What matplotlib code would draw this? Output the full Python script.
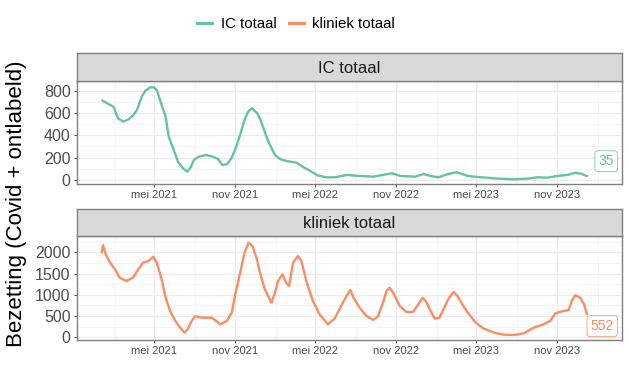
import numpy as np
import pandas as pd
import matplotlib
matplotlib.use('Agg')
import matplotlib.pyplot as plt
from matplotlib.lines import Line2D

plt.rcParams['font.family'] = ['Liberation Sans', 'DejaVu Sans']

# ---------------------------------------------------------------
#   DATA
# ---------------------------------------------------------------
ic_datum = ['2021-01-04', '2021-01-17', '2021-01-29', '2021-02-08', '2021-02-20', '2021-03-04',
            '2021-03-15', '2021-03-23', '2021-04-03', '2021-04-11', '2021-04-22', '2021-05-01',
            '2021-05-07', '2021-05-18', '2021-05-27', '2021-06-03', '2021-06-13', '2021-06-24',
            '2021-07-05', '2021-07-15', '2021-07-23', '2021-07-30', '2021-08-10', '2021-08-27',
            '2021-09-11', '2021-09-23', '2021-10-03', '2021-10-14', '2021-10-23', '2021-11-02',
            '2021-11-13', '2021-11-22', '2021-11-30', '2021-12-09', '2021-12-21', '2021-12-28',
            '2022-01-04', '2022-01-15', '2022-01-30', '2022-02-10', '2022-02-25', '2022-03-20',
            '2022-04-05', '2022-04-19', '2022-05-08', '2022-05-27', '2022-06-15', '2022-07-11',
            '2022-08-11', '2022-09-10', '2022-10-22', '2022-11-10', '2022-12-14', '2023-01-02',
            '2023-01-17', '2023-02-05', '2023-02-27', '2023-03-18', '2023-04-13', '2023-05-13',
            '2023-06-20', '2023-07-27', '2023-08-26', '2023-09-17', '2023-10-10', '2023-11-01',
            '2023-11-24', '2023-12-12', '2023-12-27', '2024-01-07']
ic_totaal = [711, 681, 657, 553, 523, 544,
             582, 627, 747, 800, 830, 830,
             806, 672, 567, 388, 284, 164,
             105, 74, 114, 179, 209, 224,
             209, 188, 134, 143, 194, 284,
             418, 538, 612, 642, 597, 538,
             463, 343, 224, 188, 170, 155,
             114, 83, 39, 24, 24, 45,
             36, 30, 60, 36, 30, 54,
             36, 24, 54, 69, 36, 24,
             12, 6, 12, 24, 21, 36,
             45, 65, 54, 35]

kl_datum = ['2021-01-02', '2021-01-05', '2021-01-11', '2021-01-21', '2021-02-01', '2021-02-12',
            '2021-02-27', '2021-03-14', '2021-03-26', '2021-04-06', '2021-04-18', '2021-04-29',
            '2021-05-07', '2021-05-18', '2021-05-26', '2021-06-06', '2021-06-18', '2021-06-29',
            '2021-07-09', '2021-07-16', '2021-07-25', '2021-08-02', '2021-08-17', '2021-09-09',
            '2021-09-28', '2021-10-13', '2021-10-24', '2021-11-01', '2021-11-12', '2021-11-22',
            '2021-12-01', '2021-12-10', '2021-12-20', '2021-12-27', '2022-01-07', '2022-01-22',
            '2022-01-30', '2022-02-06', '2022-02-16', '2022-02-24', '2022-03-03', '2022-03-12',
            '2022-03-23', '2022-03-31', '2022-04-11', '2022-04-26', '2022-05-11', '2022-05-30',
            '2022-06-14', '2022-06-29', '2022-07-12', '2022-07-20', '2022-07-27', '2022-08-10',
            '2022-08-25', '2022-09-10', '2022-09-21', '2022-10-02', '2022-10-10', '2022-10-17',
            '2022-10-25', '2022-11-09', '2022-11-24', '2022-12-09', '2022-12-21', '2022-12-31',
            '2023-01-09', '2023-01-16', '2023-01-27', '2023-02-07', '2023-02-18', '2023-03-01',
            '2023-03-11', '2023-03-20', '2023-03-31', '2023-04-12', '2023-04-30', '2023-05-19',
            '2023-06-11', '2023-07-03', '2023-07-26', '2023-08-17', '2023-09-09', '2023-10-01',
            '2023-10-16', '2023-10-28', '2023-11-15', '2023-11-27', '2023-12-04', '2023-12-12',
            '2023-12-23', '2024-01-01', '2024-01-07']
kliniek_totaal = [2000, 2165, 1953, 1755, 1600, 1402,
                  1325, 1402, 1600, 1755, 1795, 1896,
                  1755, 1365, 972, 619, 384, 226,
                  108, 188, 384, 501, 461, 461,
                  306, 384, 579, 1012, 1520, 1991,
                  2226, 2148, 1835, 1520, 1129, 814,
                  1050, 1325, 1482, 1285, 1207, 1755,
                  1913, 1795, 1325, 854, 541, 306,
                  438, 736, 988, 1113, 932, 697,
                  501, 407, 501, 814, 1089, 1167,
                  1050, 736, 595, 595, 776, 932,
                  814, 659, 438, 461, 697, 932,
                  1066, 972, 776, 579, 344, 202,
                  108, 61, 54, 94, 226, 306,
                  384, 564, 619, 642, 854, 988,
                  932, 776, 552]

x_ticks = ['2021-05-01', '2021-11-01', '2022-05-01', '2022-11-01', '2023-05-01', '2023-11-01']
x_ticklabels = ['mei 2021', 'nov 2021', 'mei 2022', 'nov 2022', 'mei 2023', 'nov 2023']
x_minor = ['2021-02-01', '2021-08-01', '2022-02-01', '2022-08-01', '2023-02-01', '2023-08-01', '2024-02-01']

kleur_ic = '#66C2A5'
kleur_kl = '#FC8D62'

# ---------------------------------------------------------------
#   FIGUUR
# ---------------------------------------------------------------
fig = plt.figure(figsize=(6.29, 3.89), dpi=100, facecolor='white')

panelen = [
    # titel, datums, waarden, kleur, panel-pos, strip-pos, ylim, major, minor, label
    ('IC totaal', ic_datum, ic_totaal, kleur_ic,
     [0.1224, 0.527, 0.8665, 0.2648], [0.1224, 0.7918, 0.8665, 0.072],
     (-36, 887), [0, 200, 400, 600, 800], [100, 300, 500, 700],
     ('2024-02-20', 168, '35')),
    ('kliniek totaal', kl_datum, kliniek_totaal, kleur_kl,
     [0.1224, 0.126, 0.8665, 0.2674], [0.1224, 0.3933, 0.8665, 0.0694],
     (-64, 2384), [0, 500, 1000, 1500, 2000], [250, 750, 1250, 1750, 2250],
     ('2024-02-11', 261, '552')),
]

for titel, datums, waarden, kleur, pos, spos, ylim, ymaj, ymin, lab in panelen:
    ax = fig.add_axes(pos)
    ax.set_facecolor('white')
    ax.plot(pd.to_datetime(datums), waarden, color=kleur, lw=1.7, zorder=3)

    ax.set_xlim(pd.Timestamp('2020-11-07'), pd.Timestamp('2024-03-27'))
    ax.set_ylim(*ylim)
    ax.set_xticks(pd.to_datetime(x_ticks))
    ax.set_xticklabels(x_ticklabels)
    ax.set_xticks(pd.to_datetime(x_minor), minor=True)
    ax.set_yticks(ymaj)
    ax.set_yticks(ymin, minor=True)

    ax.grid(True, which='major', color='#EBEBEB', lw=0.9, zorder=0)
    ax.grid(True, which='minor', color='#F4F4F4', lw=0.6, zorder=0)
    ax.set_axisbelow(True)

    ax.tick_params(axis='y', which='major', labelsize=11.5, labelcolor='#4D4D4D',
                   color='#333333', length=2.5, width=0.6, pad=2)
    ax.tick_params(axis='x', which='major', labelsize=8, labelcolor='#4D4D4D',
                   color='#333333', length=2.5, width=0.6, pad=2)
    ax.tick_params(which='minor', length=0)
    for sp in ax.spines.values():
        sp.set_color('#808080')
        sp.set_linewidth(1.0)

    # label met laatste waarde
    ax.text(pd.Timestamp(lab[0]), lab[1], lab[2], color=kleur, fontsize=10,
            ha='center', va='center', zorder=4,
            bbox=dict(boxstyle='round,pad=0.25,rounding_size=0.2', facecolor='white',
                      edgecolor=kleur, linewidth=0.6, alpha=0.9))

    # strip
    sax = fig.add_axes(spos)
    sax.set_facecolor('#D9D9D9')
    sax.set_xticks([])
    sax.set_yticks([])
    for sp in sax.spines.values():
        sp.set_color('#808080')
        sp.set_linewidth(1.0)
    sax.text(0.5, 0.45, titel, ha='center', va='center', fontsize=12,
             color='#1A1A1A', transform=sax.transAxes)

fig.text(0.026, 0.476, 'Bezetting (Covid + ontlabeld)', rotation=90,
         ha='center', va='center', fontsize=16, color='black')

handles = [Line2D([], [], color=kleur_ic, lw=2.2),
           Line2D([], [], color=kleur_kl, lw=2.2)]
fig.legend(handles, ['IC totaal', 'kliniek totaal'], loc='center',
           bbox_to_anchor=(296 / 629, 1 - 24 / 389), ncol=2, frameon=False,
           fontsize=10.8, handlelength=1.0, handletextpad=0.6, columnspacing=0.8)

fig.savefig('out.png', dpi=100, facecolor='white')
